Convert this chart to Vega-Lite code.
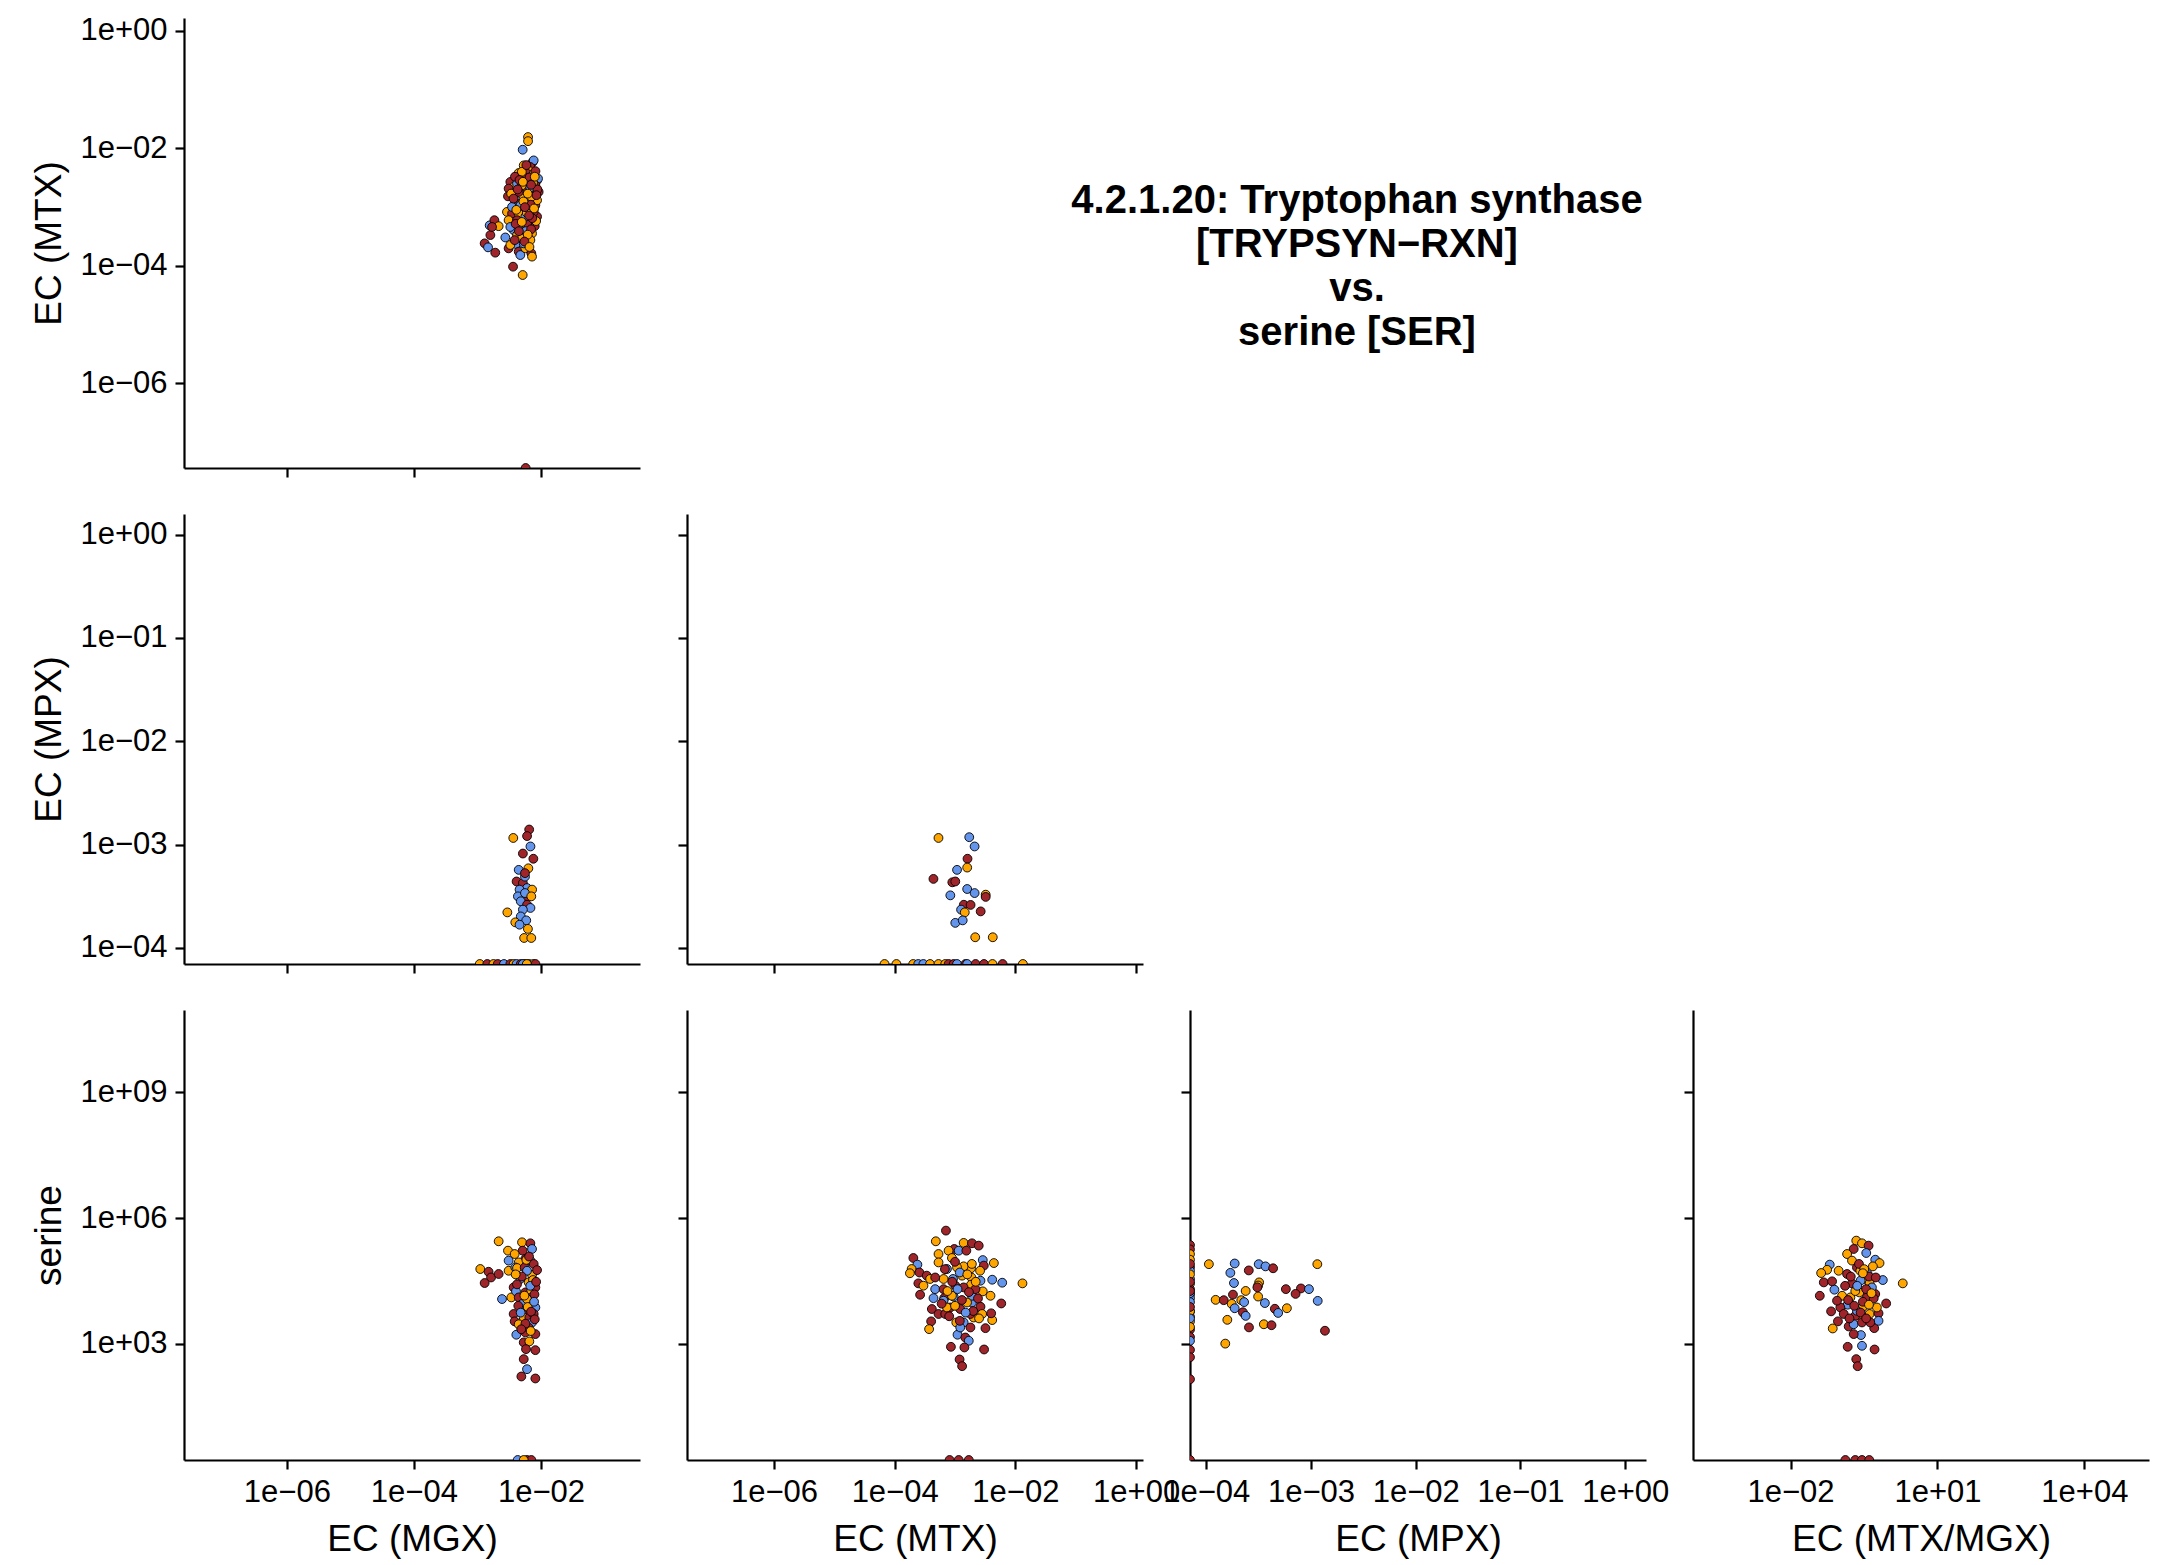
{
"$schema":"https://vega.github.io/schema/vega-lite/v6.json",
"background":"white",
"padding":{"left":30,"top":14,"right":5,"bottom":2},
"config":{"font":"Liberation Sans","view":{"stroke":null},
"circle":{"size":78,"stroke":"black","strokeWidth":0.9,"opacity":1},
"axis":{"grid":false,"domainColor":"black","domainWidth":2.2,"tickColor":"black","tickWidth":2.2,"tickSize":9,"labelFontSize":31,"labelColor":"black","labelPadding":8,"labelFlush":false,"labelOverlap":false,"titleFontSize":37,"titleFontWeight":"normal","titleColor":"black",
"labelExpr":"'1e' + (datum.value < 0.5 ? '−' : '+') + (abs(round(log(datum.value)/LN10)) < 10 ? '0' : '') + abs(round(log(datum.value)/LN10))"},
"axisX":{"titlePadding":14},"axisY":{"titlePadding":11}},
"datasets":{
"p1":[
{"x":6.27e-3,"y":1.56e-2,"g":"UC"},{"x":6.27e-3,"y":1.33e-2,"g":"UC"},{"x":5.16e-3,"y":9.5e-3,"g":"nonIBD"},{"x":7.41e-3,"y":5.86e-3,"g":"CD"},{"x":7.69e-3,"y":6.25e-3,"g":"nonIBD"},{"x":5.36e-3,"y":5.14e-3,"g":"UC"},{"x":6.82e-3,"y":4.82e-3,"g":"CD"},{"x":6.41e-3,"y":4.24e-3,"g":"UC"},{"x":8.69e-3,"y":2.86e-3,"g":"CD"},{"x":4.47e-3,"y":3.81e-3,"g":"UC"},{"x":6.04e-3,"y":3.72e-3,"g":"CD"},{"x":7.69e-3,"y":3.72e-3,"g":"UC"},{"x":9.0e-3,"y":3.06e-3,"g":"nonIBD"},{"x":3.30e-3,"y":2.69e-3,"g":"CD"},{"x":3.72e-3,"y":2.21e-3,"g":"UC"},{"x":5.36e-3,"y":3.27e-3,"g":"CD"},{"x":6.41e-3,"y":2.69e-3,"g":"UC"},{"x":8.17e-3,"y":2.36e-3,"g":"CD"},{"x":4.21e-3,"y":2.52e-3,"g":"nonIBD"},{"x":7.69e-3,"y":1.94e-3,"g":"UC"},{"x":3.10e-3,"y":2.07e-3,"g":"CD"},{"x":5.55e-3,"y":1.89e-3,"g":"nonIBD"},{"x":9.2e-3,"y":1.82e-3,"g":"CD"},{"x":4.74e-3,"y":1.60e-3,"g":"UC"},{"x":7.24e-3,"y":1.50e-3,"g":"CD"},{"x":6.41e-3,"y":1.40e-3,"g":"nonIBD"},{"x":3.03e-3,"y":1.53e-3,"g":"CD"},{"x":3.95e-3,"y":1.23e-3,"g":"UC"},{"x":4.05e-3,"y":1.31e-3,"g":"nonIBD"},{"x":4.74e-3,"y":1.15e-3,"g":"CD"},{"x":6.04e-3,"y":9.9e-4,"g":"UC"},{"x":8.17e-3,"y":1.08e-3,"g":"CD"},{"x":4.74e-3,"y":1.07e-3,"g":"nonIBD"},{"x":2.92e-3,"y":8.3e-4,"g":"UC"},{"x":3.51e-3,"y":7.8e-4,"g":"CD"},{"x":4.31e-3,"y":8.3e-4,"g":"nonIBD"},{"x":5.36e-3,"y":7.3e-4,"g":"CD"},{"x":7.24e-3,"y":8.9e-4,"g":"UC"},{"x":6.57e-3,"y":6.0e-4,"g":"nonIBD"},{"x":8.69e-3,"y":6.9e-4,"g":"CD"},{"x":3.10e-3,"y":6.0e-4,"g":"UC"},{"x":4.92e-3,"y":4.35e-4,"g":"nonIBD"},{"x":6.04e-3,"y":4.6e-4,"g":"UC"},{"x":7.98e-3,"y":4.75e-4,"g":"CD"},{"x":3.72e-3,"y":4.07e-4,"g":"nonIBD"},{"x":4.21e-3,"y":3.35e-4,"g":"UC"},{"x":5.36e-3,"y":3.57e-4,"g":"CD"},{"x":3.30e-3,"y":4.6e-4,"g":"nonIBD"},{"x":7.24e-3,"y":3.57e-4,"g":"UC"},{"x":6.41e-3,"y":2.94e-4,"g":"CD"},{"x":5.04e-3,"y":2.94e-4,"g":"UC"},{"x":2.75e-3,"y":3.05e-4,"g":"nonIBD"},{"x":3.10e-3,"y":1.99e-4,"g":"CD"},{"x":4.05e-3,"y":2.36e-4,"g":"nonIBD"},{"x":3.30e-3,"y":2.27e-4,"g":"UC"},{"x":4.47e-3,"y":1.75e-4,"g":"CD"},{"x":5.69e-3,"y":1.99e-4,"g":"UC"},{"x":4.74e-3,"y":1.53e-4,"g":"nonIBD"},{"x":7.06e-3,"y":1.64e-4,"g":"CD"},{"x":6.82e-3,"y":2.75e-4,"g":"UC"},{"x":3.86e-3,"y":2.75e-4,"g":"CD"},{"x":7.24e-3,"y":1.44e-4,"g":"UC"},{"x":5.36e-3,"y":2.42e-4,"g":"nonIBD"},{"x":1.56e-3,"y":4.9e-4,"g":"nonIBD"},{"x":1.85e-3,"y":6.0e-4,"g":"CD"},{"x":2.16e-3,"y":4.75e-4,"g":"UC"},{"x":1.60e-3,"y":3.35e-4,"g":"CD"},{"x":1.30e-3,"y":2.42e-4,"g":"CD"},{"x":1.47e-3,"y":2.07e-4,"g":"nonIBD"},{"x":1.91e-3,"y":1.68e-4,"g":"CD"},{"x":1.70e-3,"y":4.6e-4,"g":"CD"},{"x":3.64e-3,"y":9.7e-5,"g":"CD"},{"x":5.16e-3,"y":7.0e-5,"g":"UC"},
{"x":5.69e-3,"y":2.21e-3,"g":"CD"},{"x":4.47e-3,"y":7.8e-4,"g":"UC"},{"x":7.69e-3,"y":1.23e-3,"g":"nonIBD"},{"x":4.21e-3,"y":6.0e-4,"g":"CD"},{"x":8.69e-3,"y":1.31e-3,"g":"UC"},{"x":3.51e-3,"y":1.01e-3,"g":"nonIBD"},{"x":6.04e-3,"y":5.3e-4,"g":"CD"},{"x":5.04e-3,"y":2.36e-3,"g":"UC"},{"x":7.69e-3,"y":8.3e-4,"g":"CD"},{"x":5.69e-3,"y":6.9e-4,"g":"nonIBD"},{"x":4.47e-3,"y":1.82e-3,"g":"CD"},{"x":7.06e-3,"y":1.5e-3,"g":"UC"},{"x":6.6e-3,"y":3.2e-3,"g":"CD"},{"x":5.0e-3,"y":4.0e-3,"g":"UC"},{"x":8.2e-3,"y":4.1e-3,"g":"CD"},{"x":7.5e-3,"y":2.6e-3,"g":"UC"},{"x":3.9e-3,"y":3.3e-3,"g":"CD"},{"x":6.9e-3,"y":1.1e-3,"g":"CD"},{"x":5.3e-3,"y":1.25e-3,"g":"UC"},{"x":4.0e-3,"y":5.2e-4,"g":"CD"},{"x":8.4e-3,"y":5.8e-4,"g":"UC"},{"x":5.8e-3,"y":3.9e-4,"g":"nonIBD"},{"x":6.8e-3,"y":2.15e-3,"g":"nonIBD"},{"x":3.4e-3,"y":1.7e-3,"g":"UC"},{"x":8.8e-3,"y":2.0e-3,"g":"CD"},{"x":6.0e-3,"y":8.0e-4,"g":"UC"},{"x":4.6e-3,"y":2.9e-3,"g":"CD"},{"x":7.3e-3,"y":6.5e-4,"g":"CD"},
{"x":5.9e-3,"y":5.2e-3,"g":"CD"},{"x":8.0e-3,"y":3.3e-3,"g":"UC"},{"x":7.0e-3,"y":2.4e-3,"g":"CD"},{"x":5.2e-3,"y":2.7e-3,"g":"UC"},{"x":4.3e-3,"y":2.0e-3,"g":"CD"},{"x":8.5e-3,"y":1.6e-3,"g":"CD"},{"x":6.2e-3,"y":1.7e-3,"g":"UC"},{"x":3.7e-3,"y":1.4e-3,"g":"CD"},{"x":5.6e-3,"y":1.0e-3,"g":"CD"},{"x":7.8e-3,"y":9.5e-4,"g":"UC"},{"x":4.1e-3,"y":9.0e-4,"g":"UC"},{"x":6.5e-3,"y":7.2e-4,"g":"CD"},{"x":5.0e-3,"y":5.6e-4,"g":"UC"},{"x":7.0e-3,"y":4.2e-4,"g":"CD"},{"x":4.5e-3,"y":3.9e-4,"g":"CD"},{"x":6.2e-3,"y":3.4e-4,"g":"UC"},{"x":5.5e-3,"y":2.6e-4,"g":"CD"},{"x":6.6e-3,"y":2.1e-4,"g":"UC"},
{"x":5.75e-3,"y":3.63e-8,"g":"CD"}
],
"p2":[
{"x":6.53e-3,"y":1.40e-3,"g":"CD"},{"x":6.05e-3,"y":1.21e-3,"g":"CD"},{"x":3.67e-3,"y":1.16e-3,"g":"UC"},{"x":6.84e-3,"y":9.6e-4,"g":"nonIBD"},{"x":5.20e-3,"y":8.2e-4,"g":"CD"},{"x":7.60e-3,"y":7.3e-4,"g":"CD"},{"x":6.34e-3,"y":5.9e-4,"g":"UC"},{"x":4.47e-3,"y":5.7e-4,"g":"nonIBD"},{"x":4.14e-3,"y":4.4e-4,"g":"CD"},{"x":5.20e-3,"y":4.25e-4,"g":"CD"},{"x":5.61e-3,"y":4.9e-4,"g":"nonIBD"},{"x":6.05e-3,"y":3.8e-4,"g":"nonIBD"},{"x":7.26e-3,"y":3.67e-4,"g":"UC"},{"x":4.61e-3,"y":3.67e-4,"g":"nonIBD"},{"x":4.34e-3,"y":3.16e-4,"g":"nonIBD"},{"x":6.05e-3,"y":3.16e-4,"g":"CD"},{"x":5.61e-3,"y":3.4e-4,"g":"nonIBD"},{"x":7.05e-3,"y":3.16e-4,"g":"UC"},{"x":4.82e-3,"y":2.83e-4,"g":"nonIBD"},{"x":6.05e-3,"y":2.62e-4,"g":"CD"},{"x":6.84e-3,"y":2.44e-4,"g":"nonIBD"},{"x":5.20e-3,"y":2.35e-4,"g":"nonIBD"},{"x":2.96e-3,"y":2.21e-4,"g":"UC"},{"x":4.82e-3,"y":2.02e-4,"g":"nonIBD"},{"x":3.95e-3,"y":1.77e-4,"g":"UC"},{"x":5.87e-3,"y":1.85e-4,"g":"nonIBD"},{"x":4.61e-3,"y":1.68e-4,"g":"nonIBD"},{"x":6.24e-3,"y":1.53e-4,"g":"UC"},{"x":5.44e-3,"y":1.25e-4,"g":"UC"},{"x":7.05e-3,"y":1.25e-4,"g":"UC"},{"x":5.61e-3,"y":5.3e-4,"g":"CD"},
{"x":1.09e-3,"y":7.0e-5,"g":"UC"},{"x":1.43e-3,"y":7.0e-5,"g":"CD"},{"x":1.79e-3,"y":7.0e-5,"g":"UC"},{"x":2.09e-3,"y":7.0e-5,"g":"CD"},{"x":2.62e-3,"y":7.0e-5,"g":"nonIBD"},{"x":3.30e-3,"y":7.0e-5,"g":"CD"},{"x":3.72e-3,"y":7.0e-5,"g":"UC"},{"x":4.14e-3,"y":7.0e-5,"g":"nonIBD"},{"x":4.82e-3,"y":7.0e-5,"g":"CD"},{"x":5.61e-3,"y":7.0e-5,"g":"CD"},{"x":6.53e-3,"y":7.0e-5,"g":"nonIBD"},{"x":7.60e-3,"y":7.0e-5,"g":"UC"},{"x":8.2e-3,"y":7.0e-5,"g":"CD"},{"x":5.2e-3,"y":7.0e-5,"g":"nonIBD"},{"x":6.0e-3,"y":7.0e-5,"g":"UC"}
],
"p3":[
{"x":5.32e-4,"y":1.16e-3,"g":"UC"},{"x":1.72e-3,"y":1.18e-3,"g":"nonIBD"},{"x":2.11e-3,"y":9.6e-4,"g":"nonIBD"},{"x":1.61e-3,"y":7.3e-4,"g":"CD"},{"x":1.59e-3,"y":6.0e-4,"g":"UC"},{"x":1.08e-3,"y":5.7e-4,"g":"nonIBD"},{"x":4.39e-4,"y":4.66e-4,"g":"CD"},{"x":9.02e-4,"y":4.32e-4,"g":"CD"},{"x":1.01e-3,"y":4.4e-4,"g":"CD"},{"x":1.59e-3,"y":3.72e-4,"g":"nonIBD"},{"x":2.11e-3,"y":3.4e-4,"g":"nonIBD"},{"x":8.36e-4,"y":3.23e-4,"g":"nonIBD"},{"x":3.22e-3,"y":3.28e-4,"g":"UC"},{"x":3.22e-3,"y":3.12e-4,"g":"CD"},{"x":1.40e-3,"y":2.62e-4,"g":"CD"},{"x":1.81e-3,"y":2.61e-4,"g":"CD"},{"x":1.26e-3,"y":2.35e-4,"g":"nonIBD"},{"x":1.45e-3,"y":2.21e-4,"g":"UC"},{"x":2.66e-3,"y":2.26e-4,"g":"CD"},{"x":1.01e-3,"y":1.75e-4,"g":"nonIBD"},{"x":1.34e-3,"y":1.85e-4,"g":"nonIBD"},{"x":2.16e-3,"y":1.27e-4,"g":"UC"},{"x":4.22e-3,"y":1.27e-4,"g":"UC"},
{"x":6.8e-5,"y":7.0e-5,"g":"UC"},{"x":1.07e-4,"y":7.0e-5,"g":"UC"},{"x":2.03e-4,"y":7.0e-5,"g":"UC"},{"x":2.46e-4,"y":7.0e-5,"g":"nonIBD"},{"x":2.99e-4,"y":7.0e-5,"g":"nonIBD"},{"x":3.86e-4,"y":7.0e-5,"g":"UC"},{"x":5.32e-4,"y":7.0e-5,"g":"UC"},{"x":6.89e-4,"y":7.0e-5,"g":"UC"},{"x":7.83e-4,"y":7.0e-5,"g":"CD"},{"x":9.5e-4,"y":7.0e-5,"g":"CD"},{"x":1.08e-3,"y":7.0e-5,"g":"nonIBD"},{"x":1.49e-3,"y":7.0e-5,"g":"CD"},{"x":1.59e-3,"y":7.0e-5,"g":"nonIBD"},{"x":2.19e-3,"y":7.0e-5,"g":"CD"},{"x":3.02e-3,"y":7.0e-5,"g":"CD"},{"x":4.17e-3,"y":7.0e-5,"g":"UC"},{"x":6.14e-3,"y":7.0e-5,"g":"CD"},{"x":1.33e-2,"y":7.0e-5,"g":"UC"}
],
"p4":[
{"x":2.16e-3,"y":2.78e5,"g":"UC"},{"x":5.04e-3,"y":2.63e5,"g":"UC"},{"x":6.82e-3,"y":2.49e5,"g":"CD"},{"x":7.24e-3,"y":1.82e5,"g":"nonIBD"},{"x":3.03e-3,"y":1.66e5,"g":"UC"},{"x":5.16e-3,"y":1.66e5,"g":"CD"},{"x":3.86e-3,"y":1.38e5,"g":"UC"},{"x":3.10e-3,"y":9.6e4,"g":"nonIBD"},{"x":5.69e-3,"y":1.05e5,"g":"CD"},{"x":4.47e-3,"y":8.7e4,"g":"UC"},{"x":6.82e-3,"y":9.6e4,"g":"nonIBD"},{"x":7.69e-3,"y":7.98e4,"g":"CD"},{"x":1.11e-3,"y":6.05e4,"g":"UC"},{"x":1.50e-3,"y":5.2e4,"g":"CD"},{"x":1.64e-3,"y":3.8e4,"g":"CD"},{"x":2.16e-3,"y":4.6e4,"g":"CD"},{"x":1.30e-3,"y":2.8e4,"g":"CD"},{"x":3.10e-3,"y":5.5e4,"g":"UC"},{"x":3.95e-3,"y":6.6e4,"g":"nonIBD"},{"x":4.21e-3,"y":6.4e4,"g":"UC"},{"x":5.55e-3,"y":6.6e4,"g":"CD"},{"x":4.74e-3,"y":3.5e4,"g":"nonIBD"},{"x":7.24e-3,"y":4.4e4,"g":"UC"},{"x":8.69e-3,"y":5.7e4,"g":"CD"},{"x":6.41e-3,"y":2.9e4,"g":"UC"},{"x":3.72e-3,"y":2.2e4,"g":"CD"},{"x":2.44e-3,"y":1.16e4,"g":"nonIBD"},{"x":3.42e-3,"y":1.27e4,"g":"UC"},{"x":4.05e-3,"y":1.77e4,"g":"nonIBD"},{"x":5.69e-3,"y":1.67e4,"g":"CD"},{"x":7.06e-3,"y":1.84e4,"g":"UC"},{"x":8.17e-3,"y":2.2e4,"g":"CD"},{"x":4.47e-3,"y":1.27e4,"g":"CD"},{"x":7.24e-3,"y":1.27e4,"g":"nonIBD"},{"x":6.41e-3,"y":9.7e3,"g":"CD"},{"x":5.04e-3,"y":6.7e3,"g":"UC"},{"x":5.69e-3,"y":6.3e3,"g":"CD"},{"x":8.17e-3,"y":7.3e3,"g":"nonIBD"},{"x":5.36e-3,"y":4.2e3,"g":"UC"},{"x":3.72e-3,"y":5.1e3,"g":"CD"},{"x":3.86e-3,"y":3.4e3,"g":"CD"},{"x":6.57e-3,"y":4.2e3,"g":"CD"},{"x":7.24e-3,"y":3.2e3,"g":"nonIBD"},{"x":8.17e-3,"y":1.69e3,"g":"CD"},{"x":4.10e-3,"y":1.63e3,"g":"nonIBD"},{"x":5.69e-3,"y":1.85e3,"g":"CD"},{"x":5.36e-3,"y":1.07e3,"g":"CD"},{"x":6.57e-3,"y":1.13e3,"g":"UC"},{"x":5.82e-3,"y":738,"g":"CD"},{"x":8.17e-3,"y":698,"g":"CD"},{"x":5.36e-3,"y":426,"g":"CD"},{"x":6.04e-3,"y":245,"g":"nonIBD"},{"x":4.92e-3,"y":164,"g":"CD"},{"x":8.17e-3,"y":147,"g":"CD"},{"x":6.41e-3,"y":2.4e3,"g":"CD"},{"x":4.47e-3,"y":2.9e3,"g":"UC"},{"x":5.04e-3,"y":8.8e3,"g":"nonIBD"},{"x":7.69e-3,"y":5.1e3,"g":"CD"},{"x":6.04e-3,"y":1.16e4,"g":"UC"},
{"x":6.04e-3,"y":5.5e4,"g":"nonIBD"},{"x":5.0e-3,"y":4.0e4,"g":"CD"},{"x":7.5e-3,"y":3.3e4,"g":"UC"},{"x":4.2e-3,"y":2.6e4,"g":"CD"},{"x":6.8e-3,"y":2.4e4,"g":"nonIBD"},{"x":5.5e-3,"y":1.4e4,"g":"UC"},{"x":7.9e-3,"y":1.5e4,"g":"CD"},{"x":4.4e-3,"y":8.0e3,"g":"CD"},{"x":6.2e-3,"y":7.5e3,"g":"UC"},{"x":7.0e-3,"y":5.8e3,"g":"CD"},{"x":4.8e-3,"y":5.5e3,"g":"nonIBD"},{"x":8.0e-3,"y":3.8e3,"g":"CD"},{"x":5.7e-3,"y":3.0e3,"g":"CD"},{"x":6.9e-3,"y":2.0e3,"g":"UC"},{"x":4.9e-3,"y":2.2e3,"g":"CD"},{"x":7.8e-3,"y":1.0e4,"g":"nonIBD"},{"x":5.9e-3,"y":1.0e5,"g":"UC"},{"x":6.5e-3,"y":1.2e5,"g":"CD"},{"x":4.0e-3,"y":4.5e4,"g":"UC"},{"x":8.4e-3,"y":3.0e4,"g":"CD"},
{"x":4.31e-3,"y":1.66,"g":"nonIBD"},{"x":6.04e-3,"y":1.66,"g":"CD"},{"x":7.06e-3,"y":1.66,"g":"CD"},{"x":5.36e-3,"y":1.66,"g":"UC"}
],
"p5":[
{"x":7.07e-4,"y":5.0e5,"g":"CD"},{"x":4.81e-4,"y":2.78e5,"g":"UC"},{"x":1.39e-3,"y":2.54e5,"g":"UC"},{"x":1.91e-3,"y":2.49e5,"g":"CD"},{"x":2.47e-3,"y":2.19e5,"g":"CD"},{"x":9.73e-4,"y":1.82e5,"g":"CD"},{"x":1.15e-3,"y":1.66e5,"g":"nonIBD"},{"x":1.54e-3,"y":1.66e5,"g":"CD"},{"x":7.82e-4,"y":1.66e5,"g":"UC"},{"x":5.33e-4,"y":1.38e5,"g":"UC"},{"x":2.04e-4,"y":1.11e5,"g":"CD"},{"x":2.38e-4,"y":7.7e4,"g":"nonIBD"},{"x":1.91e-4,"y":6.05e4,"g":"UC"},{"x":1.79e-4,"y":4.8e4,"g":"UC"},{"x":2.57e-4,"y":5.0e4,"g":"CD"},{"x":3.4e-4,"y":4.2e4,"g":"CD"},{"x":3.87e-4,"y":3.5e4,"g":"UC"},{"x":5.33e-4,"y":8.7e4,"g":"UC"},{"x":8.89e-4,"y":1.11e5,"g":"UC"},{"x":2.88e-3,"y":9.9e4,"g":"nonIBD"},{"x":4.40e-3,"y":8.4e4,"g":"UC"},{"x":1.84e-3,"y":6.3e4,"g":"UC"},{"x":1.39e-3,"y":7.0e4,"g":"UC"},{"x":1.08e-3,"y":6.6e4,"g":"UC"},{"x":7.34e-4,"y":6.05e4,"g":"nonIBD"},{"x":3.0e-3,"y":7.3e4,"g":"CD"},{"x":6.46e-4,"y":3.5e4,"g":"UC"},{"x":9.25e-4,"y":3.5e4,"g":"nonIBD"},{"x":1.31e-3,"y":4.2e4,"g":"UC"},{"x":1.87e-3,"y":3.8e4,"g":"UC"},{"x":4.13e-3,"y":3.36e4,"g":"nonIBD"},{"x":6.05e-3,"y":2.85e4,"g":"nonIBD"},{"x":1.31e-2,"y":2.75e4,"g":"UC"},{"x":2.47e-4,"y":2.75e4,"g":"CD"},{"x":2.64e-4,"y":1.47e4,"g":"CD"},{"x":4.69e-4,"y":2.0e4,"g":"nonIBD"},{"x":4.4e-4,"y":1.22e4,"g":"nonIBD"},{"x":6.46e-4,"y":2.0e4,"g":"CD"},{"x":1.01e-3,"y":2.42e4,"g":"CD"},{"x":1.84e-3,"y":2.55e4,"g":"UC"},{"x":2.88e-3,"y":1.77e4,"g":"UC"},{"x":3.87e-3,"y":1.39e4,"g":"UC"},{"x":5.83e-3,"y":9.1e3,"g":"CD"},{"x":9.5e-4,"y":1.32e4,"g":"nonIBD"},{"x":6.62e-4,"y":1.22e4,"g":"CD"},{"x":1.91e-3,"y":9.6e3,"g":"nonIBD"},{"x":2.64e-3,"y":7.6e3,"g":"CD"},{"x":4.13e-4,"y":6.7e3,"g":"CD"},{"x":5.33e-4,"y":5.1e3,"g":"CD"},{"x":6.89e-4,"y":5.1e3,"g":"CD"},{"x":1.22e-3,"y":6.7e3,"g":"CD"},{"x":2.81e-3,"y":5.1e3,"g":"UC"},{"x":4.13e-3,"y":3.65e3,"g":"UC"},{"x":3.97e-3,"y":5.3e3,"g":"CD"},{"x":1.39e-3,"y":3.2e3,"g":"nonIBD"},{"x":1.05e-3,"y":3.2e3,"g":"UC"},{"x":4.02e-4,"y":3.4e3,"g":"CD"},{"x":3.72e-4,"y":2.22e3,"g":"UC"},{"x":3.19e-3,"y":2.34e3,"g":"CD"},{"x":1.10e-3,"y":1.63e3,"g":"nonIBD"},{"x":1.48e-3,"y":1.40e3,"g":"CD"},{"x":1.69e-3,"y":1.17e3,"g":"nonIBD"},{"x":8.55e-4,"y":839,"g":"CD"},{"x":1.43e-3,"y":809,"g":"CD"},{"x":3.03e-3,"y":724,"g":"CD"},{"x":1.19e-3,"y":418,"g":"CD"},{"x":1.31e-3,"y":289,"g":"CD"},{"x":8.34e-4,"y":7.3e3,"g":"CD"},{"x":1.91e-3,"y":1.39e4,"g":"nonIBD"},{"x":1.58e-3,"y":9.6e3,"g":"UC"},{"x":1.39e-3,"y":2.2e4,"g":"CD"},{"x":6.46e-4,"y":1.06e4,"g":"nonIBD"},{"x":2.04e-3,"y":4.2e3,"g":"UC"},{"x":1.80e-3,"y":2.43e3,"g":"CD"},{"x":1.22e-3,"y":2.43e3,"g":"nonIBD"},{"x":8.89e-4,"y":1.39e4,"g":"UC"},{"x":2.18e-3,"y":2.0e4,"g":"CD"},{"x":2.64e-3,"y":3.18e4,"g":"nonIBD"},{"x":4.69e-4,"y":3.8e4,"g":"CD"},{"x":3.0e-4,"y":2.42e4,"g":"UC"},{"x":1.80e-3,"y":5.1e3,"g":"CD"},{"x":7.34e-4,"y":7.3e3,"g":"UC"},
{"x":1.2e-3,"y":5.0e4,"g":"nonIBD"},{"x":1.6e-3,"y":4.5e4,"g":"UC"},{"x":9.0e-4,"y":3.0e4,"g":"CD"},{"x":2.2e-3,"y":3.0e4,"g":"UC"},{"x":1.1e-3,"y":2.0e4,"g":"nonIBD"},{"x":1.7e-3,"y":1.7e4,"g":"CD"},{"x":7.5e-4,"y":1.8e4,"g":"UC"},{"x":2.4e-3,"y":1.2e4,"g":"CD"},{"x":1.3e-3,"y":1.1e4,"g":"CD"},{"x":6.0e-4,"y":9.0e3,"g":"CD"},{"x":1.0e-3,"y":8.0e3,"g":"UC"},{"x":2.0e-3,"y":6.0e3,"g":"CD"},{"x":1.5e-3,"y":5.5e3,"g":"nonIBD"},{"x":8.0e-4,"y":4.5e3,"g":"CD"},{"x":2.5e-3,"y":4.0e3,"g":"UC"},{"x":1.2e-3,"y":3.5e3,"g":"CD"},{"x":1.9e-3,"y":8.0e4,"g":"UC"},{"x":1.0e-3,"y":9.0e4,"g":"CD"},{"x":2.6e-3,"y":5.5e4,"g":"UC"},{"x":6.8e-4,"y":6.0e4,"g":"CD"},
{"x":8.13e-4,"y":1.66,"g":"CD"},{"x":1.15e-3,"y":1.66,"g":"CD"},{"x":1.69e-3,"y":1.66,"g":"CD"}
],
"p6":[
{"x":1.06e-4,"y":7.9e4,"g":"UC"},{"x":1.87e-4,"y":8.2e4,"g":"nonIBD"},{"x":1.70e-4,"y":4.9e4,"g":"nonIBD"},{"x":2.55e-4,"y":5.6e4,"g":"CD"},{"x":3.17e-4,"y":7.9e4,"g":"nonIBD"},{"x":3.68e-4,"y":7.0e4,"g":"nonIBD"},{"x":4.35e-4,"y":6.3e4,"g":"CD"},{"x":1.15e-3,"y":7.9e4,"g":"UC"},{"x":1.84e-4,"y":2.8e4,"g":"nonIBD"},{"x":3.2e-4,"y":2.9e4,"g":"UC"},{"x":3.13e-4,"y":2.44e4,"g":"UC"},{"x":3.08e-4,"y":2.21e4,"g":"CD"},{"x":2.38e-4,"y":1.81e4,"g":"UC"},{"x":1.80e-4,"y":1.48e4,"g":"CD"},{"x":5.76e-4,"y":2.0e4,"g":"CD"},{"x":8.02e-4,"y":2.08e4,"g":"CD"},{"x":9.57e-4,"y":2.0e4,"g":"nonIBD"},{"x":7.13e-4,"y":1.54e4,"g":"CD"},{"x":1.23e-4,"y":1.11e4,"g":"UC"},{"x":1.47e-4,"y":1.09e4,"g":"CD"},{"x":2.16e-4,"y":1.09e4,"g":"UC"},{"x":1.75e-4,"y":8.9e3,"g":"UC"},{"x":2.30e-4,"y":9.8e3,"g":"nonIBD"},{"x":3.13e-4,"y":1.33e4,"g":"UC"},{"x":3.63e-4,"y":9.3e3,"g":"nonIBD"},{"x":1.16e-3,"y":1.05e4,"g":"nonIBD"},{"x":4.52e-4,"y":6.8e3,"g":"CD"},{"x":5.89e-4,"y":7.0e3,"g":"UC"},{"x":4.86e-4,"y":5.4e3,"g":"nonIBD"},{"x":1.87e-4,"y":7.0e3,"g":"nonIBD"},{"x":2.24e-4,"y":5.6e3,"g":"CD"},{"x":2.38e-4,"y":4.6e3,"g":"nonIBD"},{"x":1.59e-4,"y":3.7e3,"g":"UC"},{"x":3.55e-4,"y":2.9e3,"g":"UC"},{"x":4.2e-4,"y":2.75e3,"g":"CD"},{"x":2.56e-4,"y":2.44e3,"g":"CD"},{"x":1.36e-3,"y":2.03e3,"g":"CD"},{"x":1.52e-4,"y":1.0e3,"g":"UC"},
{"x":7.0e-5,"y":2.26e5,"g":"CD"},{"x":7.0e-5,"y":1.78e5,"g":"CD"},{"x":7.0e-5,"y":1.37e5,"g":"UC"},{"x":7.0e-5,"y":1.01e5,"g":"UC"},{"x":7.0e-5,"y":6.7e4,"g":"CD"},{"x":7.0e-5,"y":5.5e4,"g":"nonIBD"},{"x":7.0e-5,"y":3.5e4,"g":"nonIBD"},{"x":7.0e-5,"y":2.7e4,"g":"UC"},{"x":7.0e-5,"y":2.0e4,"g":"CD"},{"x":7.0e-5,"y":1.48e4,"g":"UC"},{"x":7.0e-5,"y":1.21e4,"g":"nonIBD"},{"x":7.0e-5,"y":9.8e3,"g":"nonIBD"},{"x":7.0e-5,"y":5.9e3,"g":"CD"},{"x":7.0e-5,"y":4.4e3,"g":"CD"},{"x":7.0e-5,"y":3.4e3,"g":"UC"},{"x":7.0e-5,"y":2.16e3,"g":"CD"},{"x":7.0e-5,"y":1.44e3,"g":"CD"},{"x":7.0e-5,"y":1.17e3,"g":"nonIBD"},{"x":7.0e-5,"y":710,"g":"CD"},{"x":7.0e-5,"y":473,"g":"CD"},{"x":7.0e-5,"y":141,"g":"CD"},{"x":7.0e-5,"y":5.9e3,"g":"UC"},{"x":7.0e-5,"y":4.0e3,"g":"nonIBD"},{"x":7.0e-5,"y":8.0e4,"g":"CD"},{"x":7.0e-5,"y":4.5e4,"g":"UC"},{"x":7.0e-5,"y":3.0e4,"g":"CD"},{"x":7.0e-5,"y":1.6e4,"g":"nonIBD"},{"x":7.0e-5,"y":7.5e3,"g":"CD"},{"x":7.0e-5,"y":2.5e3,"g":"UC"},{"x":7.0e-5,"y":1.8e4,"g":"CD"},
{"x":7.0e-5,"y":1.66,"g":"CD"}
],
"p7":[
{"x":0.220,"y":2.88e5,"g":"UC"},{"x":0.288,"y":2.49e5,"g":"UC"},{"x":0.393,"y":2.19e5,"g":"CD"},{"x":0.195,"y":1.82e5,"g":"CD"},{"x":0.143,"y":1.38e5,"g":"UC"},{"x":0.352,"y":1.46e5,"g":"nonIBD"},{"x":0.180,"y":9.6e4,"g":"UC"},{"x":0.537,"y":1.01e5,"g":"nonIBD"},{"x":0.657,"y":8.4e4,"g":"UC"},{"x":6.32e-2,"y":7.7e4,"g":"nonIBD"},{"x":5.59e-2,"y":5.8e4,"g":"UC"},{"x":4.22e-2,"y":4.85e4,"g":"UC"},{"x":4.78e-2,"y":2.9e4,"g":"CD"},{"x":7.06e-2,"y":3.07e4,"g":"CD"},{"x":9.6e-2,"y":5.5e4,"g":"UC"},{"x":0.227,"y":6.6e4,"g":"CD"},{"x":0.481,"y":7.0e4,"g":"UC"},{"x":0.375,"y":4.6e4,"g":"nonIBD"},{"x":0.266,"y":5.5e4,"g":"UC"},{"x":0.143,"y":4.6e4,"g":"CD"},{"x":0.180,"y":2.75e4,"g":"CD"},{"x":0.336,"y":3.5e4,"g":"UC"},{"x":0.767,"y":3.3e4,"g":"nonIBD"},{"x":1.96,"y":2.75e4,"g":"UC"},{"x":7.87e-2,"y":1.94e4,"g":"nonIBD"},{"x":3.96e-2,"y":1.39e4,"g":"CD"},{"x":0.113,"y":1.39e4,"g":"UC"},{"x":0.227,"y":2.0e4,"g":"CD"},{"x":0.537,"y":1.53e4,"g":"CD"},{"x":0.254,"y":1.67e4,"g":"UC"},{"x":0.412,"y":2.75e4,"g":"UC"},{"x":0.897,"y":9.1e3,"g":"CD"},{"x":0.147,"y":8.5e3,"g":"nonIBD"},{"x":6.74e-2,"y":5.9e3,"g":"CD"},{"x":0.104,"y":7.3e3,"g":"CD"},{"x":0.301,"y":7.6e3,"g":"UC"},{"x":0.412,"y":5.1e3,"g":"UC"},{"x":0.279,"y":4.6e3,"g":"UC"},{"x":0.210,"y":4.6e3,"g":"CD"},{"x":0.627,"y":5.3e3,"g":"CD"},{"x":9.3e-2,"y":3.4e3,"g":"CD"},{"x":7.28e-2,"y":2.3e3,"g":"UC"},{"x":0.154,"y":2.57e3,"g":"CD"},{"x":0.195,"y":2.9e3,"g":"nonIBD"},{"x":0.512,"y":2.34e3,"g":"CD"},{"x":0.274,"y":1.6e3,"g":"nonIBD"},{"x":0.288,"y":887,"g":"nonIBD"},{"x":0.147,"y":839,"g":"CD"},{"x":0.520,"y":724,"g":"CD"},{"x":0.220,"y":426,"g":"CD"},{"x":0.235,"y":289,"g":"CD"},{"x":0.122,"y":5.1e3,"g":"CD"},{"x":0.627,"y":3.5e3,"g":"nonIBD"},{"x":0.363,"y":1.27e4,"g":"CD"},{"x":0.167,"y":1.27e4,"g":"UC"},{"x":0.288,"y":3.2e3,"g":"CD"},{"x":0.459,"y":2.2e4,"g":"nonIBD"},{"x":8.9e-2,"y":1.06e4,"g":"CD"},{"x":0.580,"y":7.3e3,"g":"UC"},{"x":0.195,"y":1.69e3,"g":"CD"},{"x":0.227,"y":6.1e3,"g":"nonIBD"},{"x":0.425,"y":3.2e3,"g":"CD"},
{"x":0.25,"y":8.0e4,"g":"CD"},{"x":0.32,"y":6.0e4,"g":"UC"},{"x":0.17,"y":4.0e4,"g":"CD"},{"x":0.4,"y":4.0e4,"g":"CD"},{"x":0.27,"y":3.2e4,"g":"nonIBD"},{"x":0.13,"y":2.4e4,"g":"CD"},{"x":0.35,"y":2.0e4,"g":"CD"},{"x":0.21,"y":1.8e4,"g":"UC"},{"x":0.5,"y":1.2e4,"g":"CD"},{"x":0.3,"y":1.0e4,"g":"CD"},{"x":0.15,"y":1.1e4,"g":"CD"},{"x":0.4,"y":8.5e3,"g":"UC"},{"x":0.2,"y":8.0e3,"g":"CD"},{"x":0.27,"y":5.5e3,"g":"CD"},{"x":0.35,"y":4.0e3,"g":"CD"},{"x":0.16,"y":4.0e3,"g":"CD"},{"x":0.45,"y":1.6e4,"g":"UC"},{"x":0.23,"y":2.4e4,"g":"nonIBD"},{"x":0.3,"y":4.8e4,"g":"UC"},{"x":0.55,"y":3.8e4,"g":"CD"},
{"x":0.132,"y":1.66,"g":"CD"},{"x":0.210,"y":1.66,"g":"CD"},{"x":0.288,"y":1.66,"g":"CD"},{"x":0.405,"y":1.66,"g":"CD"}
]
},
"spacing":35,
"vconcat":[
{"spacing":47,"bounds":"flush","hconcat":[
{"width":456,"height":450,"data":{"name":"p1"},
"mark":{"type":"circle","clip":true},
"encoding":{
"x":{"field":"x","type":"quantitative","scale":{"type":"log","domain":[2.4e-8,0.363],"nice":false},"axis":{"values":[1e-6,1e-4,1e-2],"labels":false,"title":null}},
"y":{"field":"y","type":"quantitative","scale":{"type":"log","domain":[3.63e-8,1.66],"nice":false},"axis":{"values":[1,1e-2,1e-4,1e-6],"title":"EC (MTX)"}},
"fill":{"field":"g","type":"nominal","scale":{"domain":["CD","UC","nonIBD"],"range":["#A0252A","#FFA500","#6495ED"]},"legend":null}}},
{"width":1340,"height":450,"data":{"values":[{"label":"4.2.1.20: Tryptophan synthase\n[TRYPSYN−RXN]\nvs.\nserine [SER]"}]},
"mark":{"type":"text","lineBreak":"\n","font":"Liberation Sans","fontSize":40,"fontWeight":"bold","lineHeight":44,"align":"center","baseline":"middle","dy":-42,"color":"black"},
"encoding":{"text":{"field":"label","type":"nominal"}}}
]},
{"spacing":47,"bounds":"flush","hconcat":[
{"width":456,"height":450,"data":{"name":"p2"},
"mark":{"type":"circle","clip":true},
"encoding":{
"x":{"field":"x","type":"quantitative","scale":{"type":"log","domain":[2.4e-8,0.363],"nice":false},"axis":{"values":[1e-6,1e-4,1e-2],"labels":false,"title":null}},
"y":{"field":"y","type":"quantitative","scale":{"type":"log","domain":[7.0e-5,1.58],"nice":false},"axis":{"values":[1,1e-1,1e-2,1e-3,1e-4],"title":"EC (MPX)"}},
"fill":{"field":"g","type":"nominal","scale":{"domain":["CD","UC","nonIBD"],"range":["#A0252A","#FFA500","#6495ED"]},"legend":null}}},
{"width":456,"height":450,"data":{"name":"p3"},
"mark":{"type":"circle","clip":true},
"encoding":{
"x":{"field":"x","type":"quantitative","scale":{"type":"log","domain":[3.63e-8,1.3],"nice":false},"axis":{"values":[1e-6,1e-4,1e-2,1],"labels":false,"title":null}},
"y":{"field":"y","type":"quantitative","scale":{"type":"log","domain":[7.0e-5,1.58],"nice":false},"axis":{"values":[1,1e-1,1e-2,1e-3,1e-4],"labels":false,"title":null}},
"fill":{"field":"g","type":"nominal","scale":{"domain":["CD","UC","nonIBD"],"range":["#A0252A","#FFA500","#6495ED"]},"legend":null}}}
]},
{"spacing":47,"bounds":"flush","hconcat":[
{"width":456,"height":450,"data":{"name":"p4"},
"mark":{"type":"circle","clip":true},
"encoding":{
"x":{"field":"x","type":"quantitative","scale":{"type":"log","domain":[2.4e-8,0.363],"nice":false},"axis":{"values":[1e-6,1e-4,1e-2],"title":"EC (MGX)"}},
"y":{"field":"y","type":"quantitative","scale":{"type":"log","domain":[1.66,9.3e10],"nice":false},"axis":{"values":[1e3,1e6,1e9],"title":"serine"}},
"fill":{"field":"g","type":"nominal","scale":{"domain":["CD","UC","nonIBD"],"range":["#A0252A","#FFA500","#6495ED"]},"legend":null}}},
{"width":456,"height":450,"data":{"name":"p5"},
"mark":{"type":"circle","clip":true},
"encoding":{
"x":{"field":"x","type":"quantitative","scale":{"type":"log","domain":[3.63e-8,1.3],"nice":false},"axis":{"values":[1e-6,1e-4,1e-2,1],"title":"EC (MTX)"}},
"y":{"field":"y","type":"quantitative","scale":{"type":"log","domain":[1.66,9.3e10],"nice":false},"axis":{"values":[1e3,1e6,1e9],"labels":false,"title":null}},
"fill":{"field":"g","type":"nominal","scale":{"domain":["CD","UC","nonIBD"],"range":["#A0252A","#FFA500","#6495ED"]},"legend":null}}},
{"width":456,"height":450,"data":{"name":"p6"},
"mark":{"type":"circle","clip":true},
"encoding":{
"x":{"field":"x","type":"quantitative","scale":{"type":"log","domain":[7.0e-5,1.58],"nice":false},"axis":{"values":[1e-4,1e-3,1e-2,1e-1,1],"title":"EC (MPX)"}},
"y":{"field":"y","type":"quantitative","scale":{"type":"log","domain":[1.66,9.3e10],"nice":false},"axis":{"values":[1e3,1e6,1e9],"labels":false,"title":null}},
"fill":{"field":"g","type":"nominal","scale":{"domain":["CD","UC","nonIBD"],"range":["#A0252A","#FFA500","#6495ED"]},"legend":null}}},
{"width":456,"height":450,"data":{"name":"p7"},
"mark":{"type":"circle","clip":true},
"encoding":{
"x":{"field":"x","type":"quantitative","scale":{"type":"log","domain":[1.02e-4,2.09e5],"nice":false},"axis":{"values":[1e-2,10,1e4],"title":"EC (MTX/MGX)"}},
"y":{"field":"y","type":"quantitative","scale":{"type":"log","domain":[1.66,9.3e10],"nice":false},"axis":{"values":[1e3,1e6,1e9],"labels":false,"title":null}},
"fill":{"field":"g","type":"nominal","scale":{"domain":["CD","UC","nonIBD"],"range":["#A0252A","#FFA500","#6495ED"]},"legend":null}}}
]}
]
}
